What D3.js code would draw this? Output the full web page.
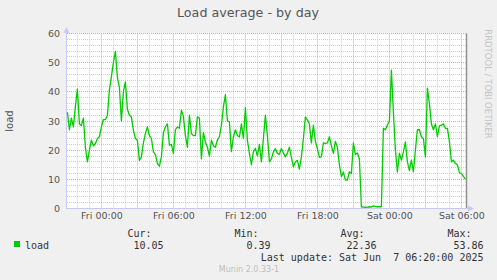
<!DOCTYPE html>
<html>
<head>
<meta charset="utf-8">
<script src="https://cdn.jsdelivr.net/npm/d3@7"></script>
<style>
body { margin: 0; background: #f0f0f0; }
text { font-family: 'DejaVu Sans', sans-serif; }
.mono { font-family: 'DejaVu Sans Mono', monospace; }
</style>
</head>
<body>
<div class="chart"></div>
<script>
let width = 497;
let height = 280;
let plotLeft = 67, plotRight = 467, plotTop = 33.5, plotBottom = 208.5;

// load values, one every 10 minutes starting Thu 21:10
let startTime = '2025-06-05T21:10';
let stepMinutes = 10;
let load = [
  33, 27, 31, 28, 35, 41, 29, 28.5, 31, 21,
  16, 20, 23.4, 21.5, 22.3, 24, 24.6, 28, 30.5, 30.5,
  32, 40.6, 45.2, 50, 53.86, 45, 41.5, 30, 40, 43.4,
  34, 32, 31.4, 26.9, 24, 23.4, 16.5, 17.7, 22.5, 25.7,
  28, 25, 24, 19.4, 18.5, 15.4, 14.5, 17.7, 26, 28,
  29, 21.7, 22, 18.9, 27, 28, 27.5, 33.7, 31.5, 25,
  21, 32, 25.7, 25, 25, 31.4, 31, 17, 26, 22.8,
  21, 18, 23.4, 21.5, 21, 23.5, 24.6, 28.5, 34.9, 39,
  30, 29.7, 19.5, 24.6, 27, 25, 24.5, 29, 24, 34.6,
  23.4, 18.9, 15, 19.5, 20.6, 18, 22, 16, 24, 32,
  25, 16, 17, 19.4, 20.5, 18.9, 18.5, 20.6, 19, 17.7,
  19, 21, 17.5, 14.3, 16, 16.5, 13.5, 17.7, 24, 31.4,
  30.3, 29, 22.5, 28.6, 23, 20.5, 17.5, 17.7, 22.5, 22.3,
  22.5, 24.6, 21.5, 18.9, 23, 21, 15, 10.9, 12.5, 9.7,
  9.7, 12.6, 12, 22.5, 18.5, 19, 17, 0.6, 0.5, 0.39,
  0.5, 0.6, 0.5, 0.9, 0.7, 0.6, 0.6, 0.6, 27.5, 27,
  28.6, 30, 47.4, 33, 20, 12.5, 19, 16.6, 19.4, 22.8,
  16, 13, 16.6, 12.6, 20, 27, 27, 24.6, 24, 17.7,
  41.3, 36, 29, 27, 29, 24.6, 28.3, 28.6, 29, 27.5,
  27.5, 23, 16, 16.6, 15.5, 15, 12.3, 12, 11, 10.05
];
let yTicks = [0, 10, 20, 30, 40, 50, 60];
let xTickTimes = ['2025-06-06T00:00', '2025-06-06T06:00', '2025-06-06T12:00',
                  '2025-06-06T18:00', '2025-06-07T00:00', '2025-06-07T06:00'];
let xTickLabels = ['Fri 00:00', 'Fri 06:00', 'Fri 12:00', 'Fri 18:00', 'Sat 00:00', 'Sat 06:00'];
let statNames = ['Cur:', 'Min:', 'Avg:', 'Max:'];
let statValues = ['10.05', '0.39', '22.36', '53.86'];
let lastUpdate = 'Last update: Sat Jun  7 06:20:00 2025';

let parse = d3.timeParse('%Y-%m-%dT%H:%M');
let t0 = parse(startTime);
let data = load.map((v, i) => ({ t: new Date(t0.getTime() + i * stepMinutes * 60000), v: v }));

let xScale = d3.scaleTime()
  .domain([parse('2025-06-05T21:08'), parse('2025-06-07T06:28')])
  .range([plotLeft, plotRight]);
let yScale = d3.scaleLinear()
  .domain([0, 60])
  .range([plotBottom, plotTop]);

let svg = d3.select('.chart')
  .append('svg')
  .attr('width', width)
  .attr('height', height);

svg.append('rect').attr('width', width).attr('height', height).attr('fill', '#f0f0f0');
svg.append('rect')
  .attr('x', plotLeft).attr('y', plotTop)
  .attr('width', plotRight - plotLeft).attr('height', plotBottom - plotTop)
  .attr('fill', '#ffffff');

// grid
let grid = svg.append('g');
let snap = x => Math.round(x) + 0.5;
d3.range(2, 61, 2).forEach(v => {
  grid.append('line')
    .attr('x1', plotLeft).attr('x2', plotRight)
    .attr('y1', snap(yScale(v) - 0.5)).attr('y2', snap(yScale(v) - 0.5))
    .attr('stroke', v % 10 == 0 ? '#eaa0a0' : '#cfcfcf')
    .attr('stroke-dasharray', '1,1');
});
xScale.ticks(d3.timeHour.every(1)).forEach(d => {
  let major = d.getHours() % 3 == 0;
  grid.append('line')
    .attr('x1', snap(xScale(d))).attr('x2', snap(xScale(d)))
    .attr('y1', plotTop).attr('y2', plotBottom)
    .attr('stroke', major ? '#eaa0a0' : '#cfcfcf')
    .attr('stroke-dasharray', '1,1');
});

// right edge marker
svg.append('line')
  .attr('x1', 466.5).attr('x2', 466.5)
  .attr('y1', plotTop).attr('y2', plotBottom)
  .attr('stroke', '#939393')
  .attr('stroke-width', 1.5);

// axes
let yAxis = d3.axisLeft(yScale).tickValues(yTicks).tickSize(0).tickPadding(7);
let gy = svg.append('g').attr('transform', 'translate(' + plotLeft + ',0)').call(yAxis);
gy.select('.domain').remove();
gy.selectAll('text').attr('fill', '#555').style('font-size', '9.5px').style('font-family', 'DejaVu Sans');

let xAxis = d3.axisBottom(xScale)
  .tickValues(xTickTimes.map(parse))
  .tickFormat((d, i) => xTickLabels[i])
  .tickSize(0).tickPadding(4);
let gx = svg.append('g').attr('transform', 'translate(0,' + plotBottom + ')').call(xAxis);
gx.select('.domain').remove();
gx.selectAll('text').attr('fill', '#555').style('font-size', '9.5px').style('font-family', 'DejaVu Sans');

svg.append('line')
  .attr('x1', plotLeft - 0.5).attr('x2', plotLeft - 0.5)
  .attr('y1', plotTop - 2).attr('y2', plotBottom)
  .attr('stroke', '#c8c8f4');
svg.append('line')
  .attr('x1', plotLeft - 1).attr('x2', plotRight + 2)
  .attr('y1', plotBottom).attr('y2', plotBottom)
  .attr('stroke', '#c8c8f4');
svg.append('path')
  .attr('d', 'M' + (plotLeft - 3.5) + ',' + (plotTop - 0.5) + 'L' + (plotLeft + 2.5) + ',' + (plotTop - 0.5) + 'L' + (plotLeft - 0.5) + ',' + (plotTop - 6.5) + 'Z')
  .attr('fill', '#c8c8f4');
svg.append('path')
  .attr('d', 'M' + (plotRight + 1) + ',' + (plotBottom - 3) + 'L' + (plotRight + 1) + ',' + (plotBottom + 3) + 'L' + (plotRight + 7) + ',' + plotBottom + 'Z')
  .attr('fill', '#c8c8f4');

// load line
let line = d3.line().x(d => xScale(d.t)).y(d => yScale(d.v));
svg.append('path')
  .datum(data)
  .attr('d', line)
  .attr('fill', 'none')
  .attr('stroke', '#00cc00')
  .attr('stroke-width', 1.3)
  .attr('stroke-linejoin', 'round');

// titles
svg.append('text')
  .attr('x', 248).attr('y', 17)
  .attr('text-anchor', 'middle')
  .attr('fill', '#555')
  .style('font-size', '12.7px')
  .text('Load average - by day');
svg.append('text')
  .attr('transform', 'translate(13,121) rotate(-90)')
  .attr('text-anchor', 'middle')
  .attr('fill', '#555')
  .style('font-size', '10px')
  .text('load');
svg.append('text')
  .attr('transform', 'translate(485,84) rotate(90)')
  .attr('text-anchor', 'middle')
  .attr('fill', '#c4c4c4')
  .style('font-size', '8.5px')
  .text('RRDTOOL / TOBI OETIKER');

// legend
svg.append('rect')
  .attr('x', 14).attr('y', 241)
  .attr('width', 6).attr('height', 6)
  .attr('fill', '#00cc00');
svg.append('text').attr('class', 'mono')
  .attr('x', 25).attr('y', 249)
  .attr('fill', '#333').style('font-size', '10px')
  .text('load');
let statX = [127.5, 234.5, 340.5, 447.5];
let valueX = [163.5, 270.5, 376.5, 483.5];
statNames.forEach((s, i) => {
  svg.append('text').attr('class', 'mono')
    .attr('x', statX[i]).attr('y', 237)
    .attr('fill', '#333').style('font-size', '10px')
    .text(s);
  svg.append('text').attr('class', 'mono')
    .attr('x', valueX[i]).attr('y', 249)
    .attr('text-anchor', 'end')
    .attr('fill', '#333').style('font-size', '10px')
    .text(statValues[i]);
});
svg.append('text').attr('class', 'mono')
  .attr('x', 483.5).attr('y', 261)
  .attr('text-anchor', 'end')
  .attr('fill', '#333').style('font-size', '10px')
  .style('white-space', 'pre')
  .text(lastUpdate);
svg.append('text')
  .attr('x', 249).attr('y', 272)
  .attr('text-anchor', 'middle')
  .attr('fill', '#bdbdbd')
  .style('font-size', '8px')
  .text('Munin 2.0.33-1');
</script>
</body>
</html>
